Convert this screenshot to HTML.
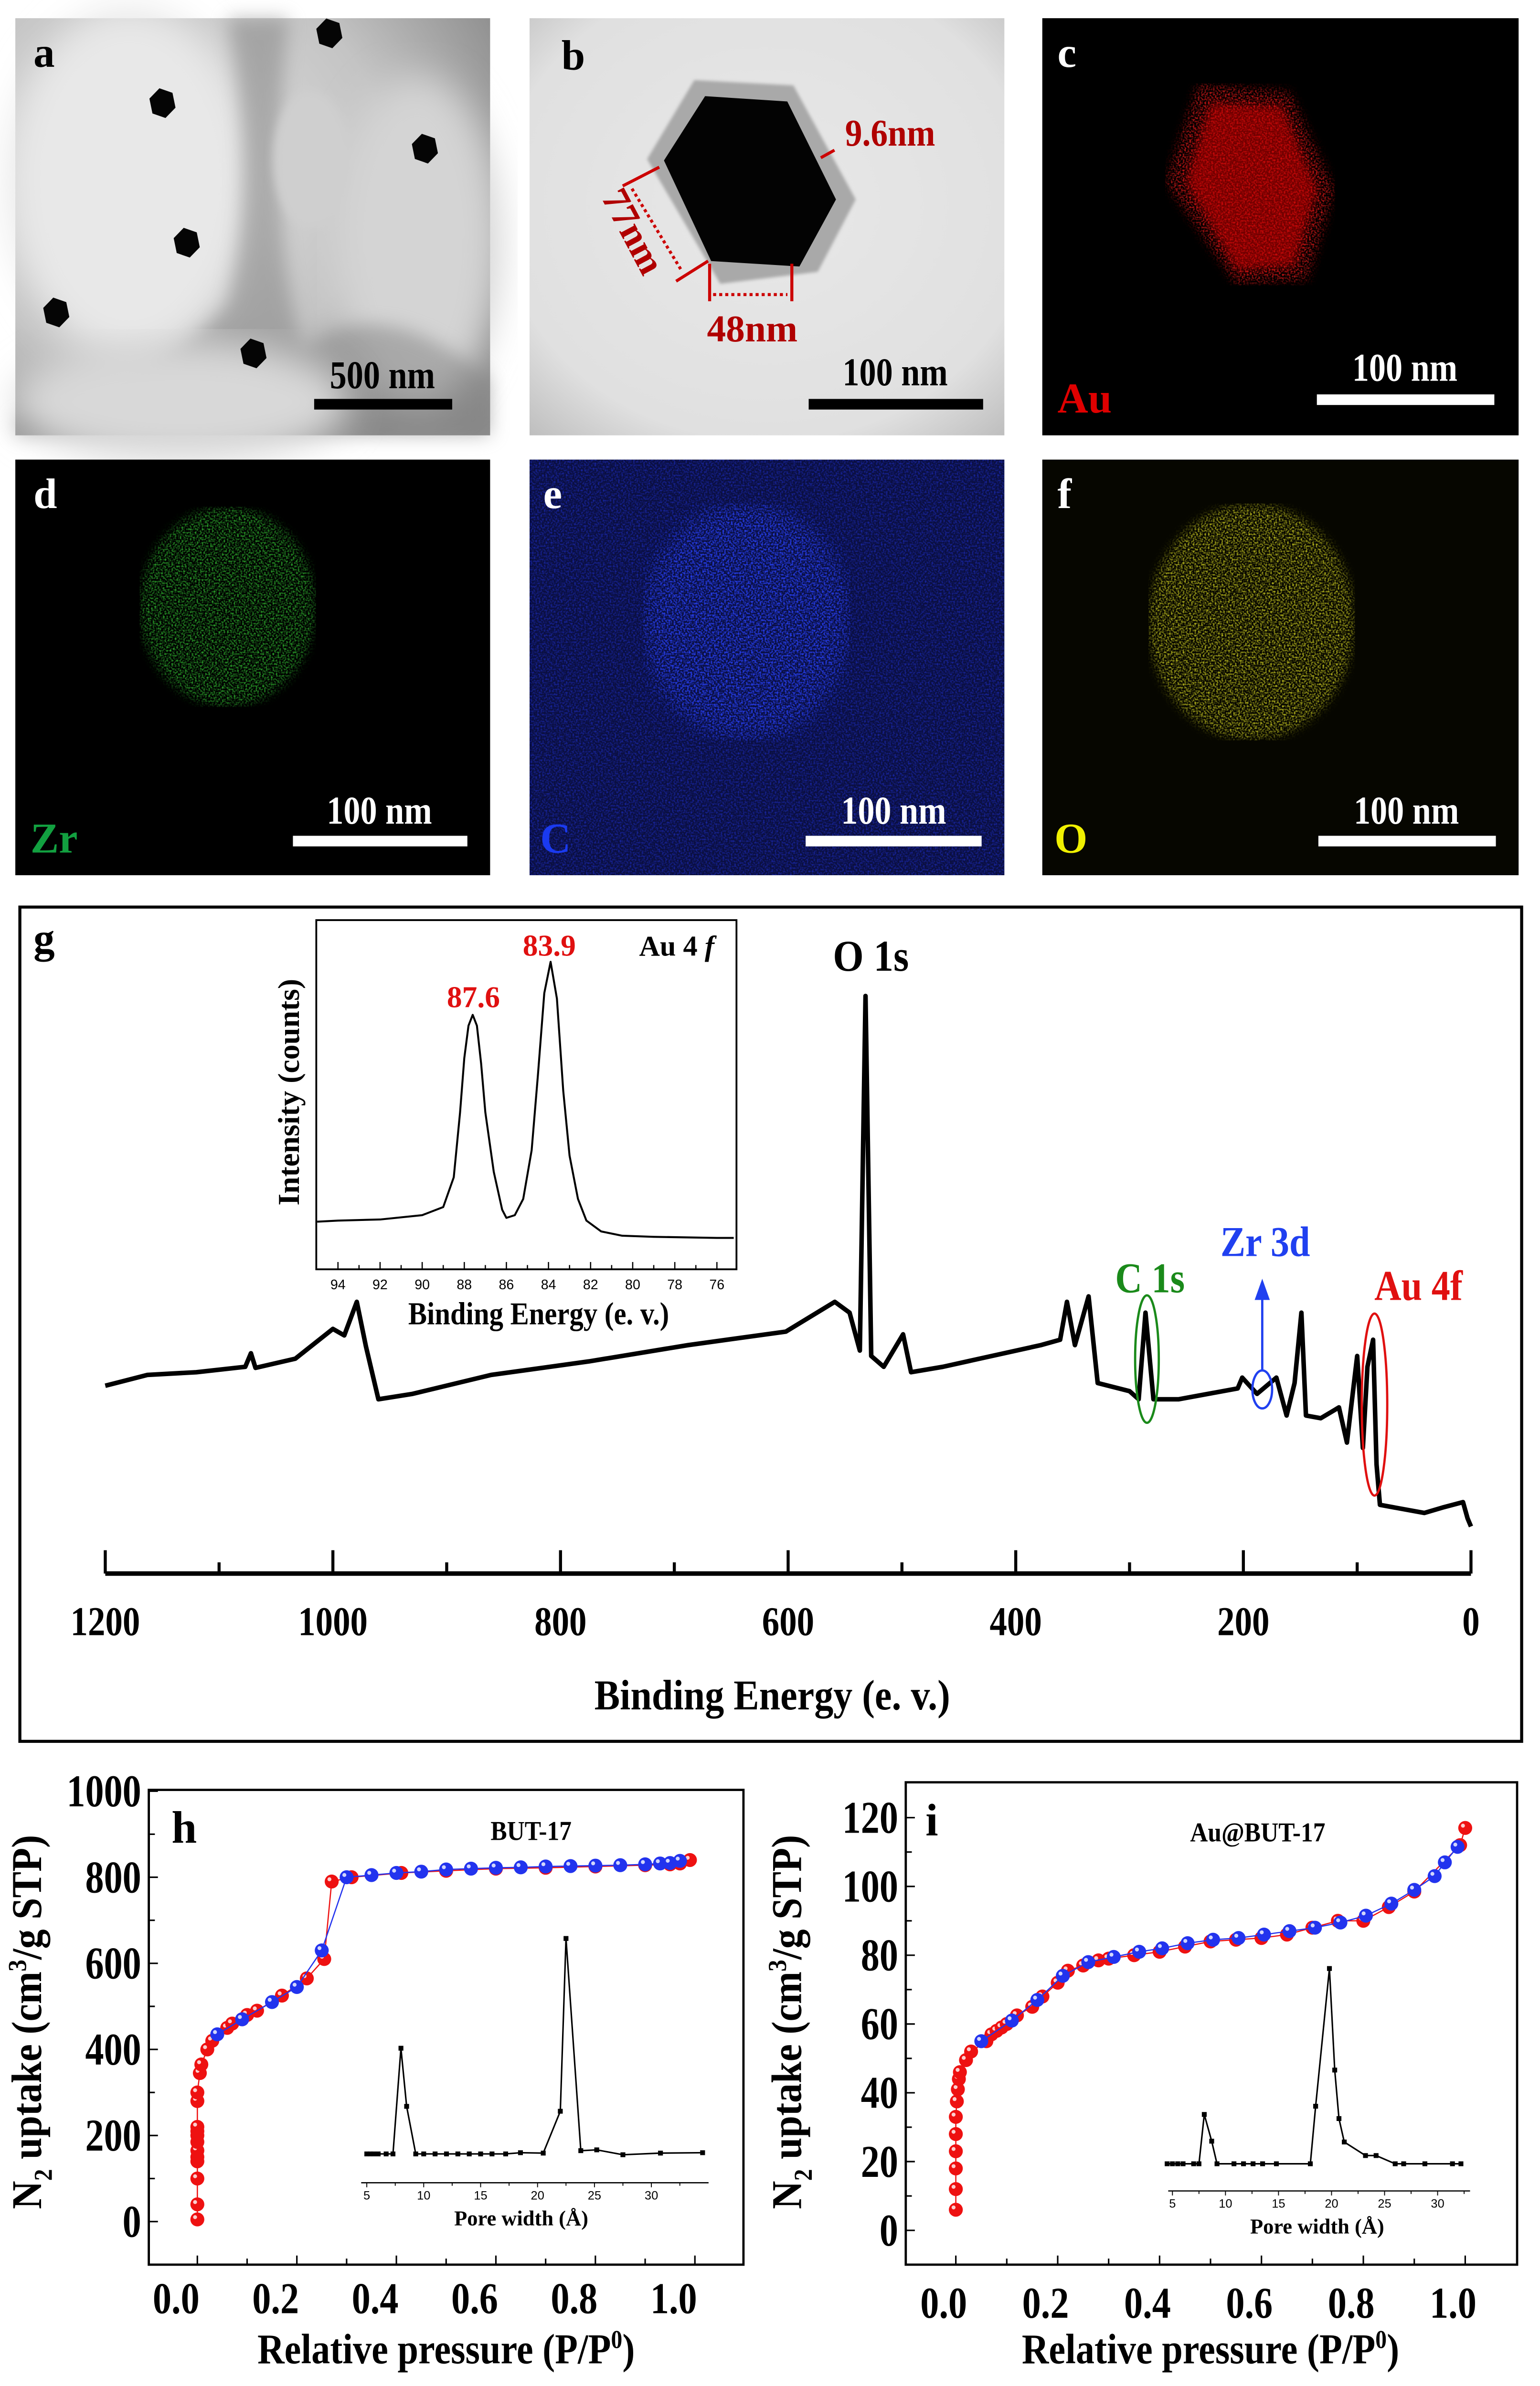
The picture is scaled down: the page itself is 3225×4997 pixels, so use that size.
<!DOCTYPE html>
<html><head><meta charset="utf-8"><style>
html,body{margin:0;padding:0;background:#fff;}
svg{display:block;font-family:"Liberation Serif",serif;}
</style></head><body>
<svg id="fig" width="3225" height="4997" viewBox="0 0 1015 1573" xmlns="http://www.w3.org/2000/svg">
<defs>
<filter id="blur6"><feGaussianBlur stdDeviation="6"/></filter>
<filter id="blur3"><feGaussianBlur stdDeviation="3"/></filter>
<filter id="blur1"><feGaussianBlur stdDeviation="1"/></filter>
<filter id="blur12"><feGaussianBlur stdDeviation="12"/></filter>
<filter id="speck" x="0" y="0" width="1" height="1"><feTurbulence type="fractalNoise" baseFrequency="0.9" numOctaves="1" seed="3" result="n"/><feColorMatrix in="n" type="matrix" values="0 0 0 0 0  0 0 0 0 0  0 0 0 0 0  0 0 0 -2.2 1.3" result="a"/><feComposite in="SourceGraphic" in2="a" operator="in"/></filter>
<radialGradient id="gA" cx="0.3" cy="0.35" r="0.8"><stop offset="0" stop-color="#e2e2e2"/><stop offset="0.6" stop-color="#c4c4c4"/><stop offset="1" stop-color="#8e8e8e"/></radialGradient>
<radialGradient id="gB" cx="0.5" cy="0.45" r="0.75"><stop offset="0" stop-color="#e8e8e8"/><stop offset="0.75" stop-color="#e0e0e0"/><stop offset="1" stop-color="#bdbdbd"/></radialGradient>
</defs>

<!-- panel a -->
<g>
<rect x="10" y="12" width="313" height="275" fill="url(#gA)"/>
<ellipse cx="85" cy="120" rx="80" ry="115" fill="#e8e8e8" filter="url(#blur12)"/>
<ellipse cx="275" cy="160" rx="55" ry="110" fill="#d4d4d4" filter="url(#blur12)"/>
<path d="M150 12 Q170 120 150 200 Q100 260 10 275 L10 287 L323 287 L323 250 Q250 190 200 230 Q175 150 190 12 Z" fill="#7f7f7f" opacity="0.5" filter="url(#blur6)"/>
<ellipse cx="205" cy="105" rx="25" ry="45" fill="#cfcfcf" filter="url(#blur3)"/>
<ellipse cx="120" cy="265" rx="110" ry="40" fill="#d8d8d8" filter="url(#blur12)"/>
<text x="22" y="44" font-size="28" font-weight="bold" fill="#000">a</text>
<rect x="207" y="263" width="91" height="7" fill="#000"/>
<text x="252" y="256" font-size="26" font-weight="bold" text-anchor="middle" fill="#000" transform="translate(252 0) scale(0.85 1) translate(-252 0)">500 nm</text>
</g>
<g id="hexA"></g>

<!-- panel b -->
<g>
<rect x="349" y="12" width="313" height="275" fill="url(#gB)"/>
<polygon points="457.6,52.8 522.9,56.3 564,131.5 539,179.2 474.7,187.1 426.5,104.9" fill="#a9a9a9" filter="url(#blur1)"/>
<polygon points="464.7,63.4 518.9,66.9 551,131.5 526.9,175.7 468.7,172.1 437.6,105.8" fill="#030303"/>
<text x="370" y="46" font-size="28" font-weight="bold">b</text>
<line x1="541" y1="104" x2="550" y2="99" stroke="#c00" stroke-width="2"/>
<text x="557" y="96" font-size="25" font-weight="bold" fill="#b00000" transform="translate(557 0) scale(0.9 1) translate(-557 0)">9.6nm</text>
<line x1="410.4" y1="122.6" x2="434.5" y2="110.2" stroke="#c00" stroke-width="2"/>
<line x1="445.6" y1="185.4" x2="466.7" y2="172.1" stroke="#c00" stroke-width="2"/>
<line x1="416.5" y1="124.4" x2="448.6" y2="177.4" stroke="#c00" stroke-width="2" stroke-dasharray="2,2"/>
<text x="396" y="130" font-size="25" font-weight="bold" fill="#b00000" transform="rotate(62 396 130)">77nm</text>
<line x1="467.7" y1="173.9" x2="467.7" y2="198.6" stroke="#c00" stroke-width="2"/>
<line x1="521.9" y1="173.9" x2="521.9" y2="198.6" stroke="#c00" stroke-width="2"/>
<line x1="470" y1="194.2" x2="519" y2="194.2" stroke="#c00" stroke-width="2" stroke-dasharray="2,2"/>
<text x="495.8" y="225" font-size="25" font-weight="bold" fill="#b00000" text-anchor="middle">48nm</text>
<rect x="533" y="263" width="115" height="7" fill="#000"/>
<text x="590" y="254" font-size="26" font-weight="bold" text-anchor="middle" transform="translate(590 0) scale(0.85 1) translate(-590 0)">100 nm</text>
</g>

<!-- panel c -->
<g>
<rect x="687" y="12" width="314" height="275" fill="#000"/>
<g filter="url(#speck)"><polygon points="790,55 850,60 880,125 862,185 815,188 768,120" fill="#ff1a1a" filter="url(#blur3)"/></g>
<polygon points="798,68 845,70 868,125 853,175 815,178 782,120" fill="#d00000" opacity="0.55" filter="url(#blur3)"/>
<text x="697" y="44" font-size="28" font-weight="bold" fill="#fff">c</text>
<text x="697" y="272" font-size="28" font-weight="bold" fill="#e00000">Au</text>
<rect x="868" y="260" width="117" height="7" fill="#fff"/>
<text x="926" y="251" font-size="26" font-weight="bold" fill="#fff" text-anchor="middle" transform="translate(926 0) scale(0.85 1) translate(-926 0)">100 nm</text>
</g>

<!-- panel d -->
<g>
<rect x="10" y="303" width="313" height="274" fill="#000"/>
<g filter="url(#speck)"><ellipse cx="150" cy="400" rx="58" ry="66" fill="#30c030" filter="url(#blur3)"/></g>
<text x="22" y="335" font-size="28" font-weight="bold" fill="#fff">d</text>
<text x="20" y="562" font-size="28" font-weight="bold" fill="#12a040">Zr</text>
<rect x="193" y="551" width="115" height="7" fill="#fff"/>
<text x="250" y="543" font-size="26" font-weight="bold" fill="#fff" text-anchor="middle" transform="translate(250 0) scale(0.85 1) translate(-250 0)">100 nm</text>
</g>

<!-- panel e -->
<g>
<rect x="349" y="303" width="313" height="274" fill="#0b0f40"/>
<g filter="url(#speck)"><rect x="349" y="303" width="313" height="274" fill="#1a28b0"/></g>
<g filter="url(#speck)"><ellipse cx="492" cy="410" rx="68" ry="78" fill="#2a45ff" filter="url(#blur6)"/></g>
<text x="358" y="335" font-size="28" font-weight="bold" fill="#fff">e</text>
<text x="356" y="562" font-size="28" font-weight="bold" fill="#1a3af0">C</text>
<rect x="531" y="551" width="116" height="7" fill="#fff"/>
<text x="589" y="543" font-size="26" font-weight="bold" fill="#fff" text-anchor="middle" transform="translate(589 0) scale(0.85 1) translate(-589 0)">100 nm</text>
</g>

<!-- panel f -->
<g>
<rect x="687" y="303" width="314" height="274" fill="#060600"/>
<g filter="url(#speck)"><ellipse cx="825" cy="410" rx="68" ry="78" fill="#d8d820" filter="url(#blur3)"/></g>
<text x="697" y="335" font-size="28" font-weight="bold" fill="#fff">f</text>
<text x="695" y="562" font-size="28" font-weight="bold" fill="#f0f000">O</text>
<rect x="869" y="551" width="117" height="7" fill="#fff"/>
<text x="927" y="543" font-size="26" font-weight="bold" fill="#fff" text-anchor="middle" transform="translate(927 0) scale(0.85 1) translate(-927 0)">100 nm</text>
</g>

<!-- panel g -->
<g id="panelG">
<rect x="13" y="598" width="990" height="550" fill="#fff" stroke="#000" stroke-width="2"/>
<text x="22" y="628" font-size="28" font-weight="bold">g</text>
</g>
<g id="panelH"></g>
<g id="panelI"></g>
</svg>

<script>
// ---------- XPS survey data ----------
const xpsEnergy = [1200,1163,1120,1077,1072,1068,1033,1000,990,979,971,960,930,861,775,688,602,559,546,537,532,527,516,499,492,464,378,361,355,348,336,328,300,292,286,279,257,205,201,188,171,162,155,149,145,132,116,109,100,95,91,86,83,80,41,25,7,3,0];
const xpsIntensity = [347,367,372,382,407,380,397,452,440,502,420,322,332,367,392,422,447,502,482,412,1067,402,382,442,372,382,422,432,502,422,512,352,337,322,482,322,322,342,362,332,362,292,352,482,292,287,307,242,402,232,382,432,202,127,112,122,132,102,87];
const xpsTicks = [1200,1000,800,600,400,200,0];
// ---------- XPS inset (Au 4f) ----------
const auEnergy = [95,94,92,90,89,88.5,88.2,88,87.8,87.6,87.4,87.2,87,86.6,86.2,86,85.6,85.2,84.8,84.5,84.2,83.9,83.6,83.3,83,82.6,82.2,81.5,80.5,79,76,75.2];
const auIntensity = [38,40,42,50,65,120,240,340,400,420,400,330,240,130,60,45,50,80,170,310,460,518,450,280,160,80,40,20,12,10,8,8];
const auTicks = [94,92,90,88,86,84,82,80,78,76];
// ---------- BUT-17 isotherm ----------
const hAdsX = [0,0,0,0,0,0,0,0,0,0,0,0,0.005,0.008,0.02,0.03,0.06,0.07,0.09,0.1,0.12,0.17,0.22,0.255,0.27,0.31,0.41,0.5,0.6,0.7,0.8,0.9,0.95,0.97,0.99];
const hAdsY = [5,40,100,140,150,165,185,200,210,220,280,300,345,365,400,420,450,460,470,480,490,525,565,610,790,800,810,815,820,822,825,828,830,832,840];
const hDesX = [0.04,0.09,0.15,0.2,0.25,0.3,0.35,0.4,0.45,0.5,0.55,0.6,0.65,0.7,0.75,0.8,0.85,0.9,0.93,0.95,0.97];
const hDesY = [435,470,510,545,630,800,805,810,813,818,820,822,823,825,826,827,828,830,832,833,838];
const hYTicks = [0,200,400,600,800,1000];
const xTicks = [0,0.2,0.4,0.6,0.8,1.0];
const hPoreX = [5,5.3,5.6,6,6.7,7.3,8,8.5,9.3,10,11,12,13,14,15,16,17.2,18.5,20.5,22,22.5,23.8,25.2,27.5,30.8,34.5];
const hPoreY = [0,0,0,0,0,0,260,117,0,0,0,0,0,0,0,0,0,3,2,105,530,8,10,-2,2,3];
const hPoreTicks = [5,10,15,20,25,30];
// ---------- Au@BUT-17 isotherm ----------
const iAdsX = [0,0,0,0,0,0,0.002,0.004,0.006,0.008,0.02,0.03,0.06,0.07,0.08,0.09,0.1,0.12,0.15,0.17,0.2,0.22,0.25,0.28,0.3,0.35,0.4,0.45,0.5,0.55,0.6,0.65,0.7,0.75,0.8,0.85,0.9,0.99,1.0];
const iAdsY = [6,12,18,23,28,33,37.5,41,44,46,49.5,52,55,57,58,59,60,62.5,65,68,72,75.5,77,78.5,79,80,81,82.5,84,84.5,85,86,88,90,90,94,98.5,112,117];
const iDesX = [0.05,0.11,0.16,0.21,0.26,0.31,0.36,0.405,0.455,0.505,0.555,0.605,0.655,0.705,0.755,0.805,0.855,0.9,0.94,0.96,0.985];
const iDesY = [55,61,67,74,78,79.5,81,82,83.5,84.5,85,86,87,88,89.5,91.5,95,99,103,107,111.5];
const iYTicks = [0,20,40,60,80,100,120];
const iPoreX = [4.5,5,5.5,6,7,7.5,8,8.7,9.2,10.8,11.7,12.6,13.5,14.8,18,18.5,19.8,20.3,20.7,21.2,23.2,24.2,26,26.8,28.8,31.4,32.2];
const iPoreY = [0,0,0,0,0,0,120,55,0,0,0,0,0,0,0,140,475,228,110,53,20,20,0,0,0,0,0];
const iPoreTicks = [5,10,15,20,25,30];

const NS = "http://www.w3.org/2000/svg";
function mk(parent, tag, attrs, text){
  const e = document.createElementNS(NS, tag);
  for (const k in attrs) e.setAttribute(k, attrs[k]);
  if (text !== undefined) e.textContent = text;
  parent.appendChild(e);
  return e;
}
function lin(d0,d1,r0,r1){ return v => r0 + (v-d0)*(r1-r0)/(d1-d0); }
function cond(x, s){ return `translate(${x} 0) scale(${s} 1) translate(${-x} 0)`; }

// nanoparticles in panel a
(function(){
  const g = document.getElementById('hexA');
  const centers = [[107,68],[217,22],[280,98],[123,160],[37,206],[167,233]];
  centers.forEach(c=>{
    let pts=[];
    for(let k=0;k<6;k++){const a=Math.PI/3*k+0.3;pts.push((c[0]+9*Math.cos(a)).toFixed(1)+','+(c[1]+10*Math.sin(a)).toFixed(1));}
    const p = mk(g,'polygon',{points:pts.join(' '),fill:'#050505'});
    
    
  });
})();

// ---------- panel g ----------
(function(){
  const g = document.getElementById('panelG');
  const xE = lin(1200,0,69.3,969.6);
  const yI = v => 597 + (1252 - v - 18)*0.3569;
  let d = xpsEnergy.map((e,i)=>(i?'L':'M')+xE(e).toFixed(2)+' '+yI(xpsIntensity[i]).toFixed(2)).join(' ');
  const sp = mk(g,'path',{d:d,fill:'none',stroke:'#000','stroke-width':3,'stroke-linejoin':'round'});
  
  
  const ax = mk(g,'line',{x1:69.3,x2:969.6,y1:1037.4,y2:1037.4,stroke:'#000','stroke-width':3});
  
  
  for(let e=0;e<=1200;e+=100){
    const major = e%200===0;
    mk(g,'line',{x1:xE(e),x2:xE(e),y1:1037.4,y2:major?1022:1030,stroke:'#000','stroke-width':2});
  }
  xpsTicks.forEach(t=>{
    const tl = mk(g,'text',{x:xE(t),y:1078,'font-size':27,'font-weight':'bold','text-anchor':'middle',transform:cond(xE(t),0.85)},String(t));
    
    
  });
  const xt = mk(g,'text',{x:509,y:1127,'font-size':28,'font-weight':'bold','text-anchor':'middle',transform:cond(509,0.9)},'Binding Energy (e. v.)');
  
  
  const o1 = mk(g,'text',{x:574,y:640,'font-size':29,'font-weight':'bold','text-anchor':'middle',transform:cond(574,0.9)},'O 1s');
  
  
  const c1 = mk(g,'text',{x:758,y:852,'font-size':28,'font-weight':'bold','text-anchor':'middle',fill:'#1a8a1a',transform:cond(758,0.88)},'C 1s');
  
  
  const zr = mk(g,'text',{x:834,y:828,'font-size':28,'font-weight':'bold','text-anchor':'middle',fill:'#2040f0',transform:cond(834,0.88)},'Zr 3d');
  
  
  const au = mk(g,'text',{x:935,y:857,'font-size':28,'font-weight':'bold','text-anchor':'middle',fill:'#e01010',transform:cond(935,0.88)},'Au 4f');
  
  
  mk(g,'ellipse',{cx:756,cy:896,rx:7.8,ry:42,fill:'none',stroke:'#1a8a1a','stroke-width':1.5});
  mk(g,'ellipse',{cx:832,cy:916,rx:6.5,ry:12.5,fill:'none',stroke:'#2040f0','stroke-width':1.5});
  mk(g,'ellipse',{cx:906,cy:926,rx:8.4,ry:60,fill:'none',stroke:'#e01010','stroke-width':1.5});
  mk(g,'line',{x1:832,y1:903,x2:832,y2:855,stroke:'#2040f0','stroke-width':1.5});
  mk(g,'polygon',{points:'827,857 837,857 832,843',fill:'#2040f0'});

  // inset
  const ib = mk(g,'rect',{x:208.4,y:606.6,width:277,height:230.2,fill:'#fff',stroke:'#000','stroke-width':1.2});
  
  
  const xa = lin(94,76,222.7,472.5);
  const ya = v => 606.6 + (640 - v - 45)*0.3569;
  let d2 = auEnergy.map((e,i)=>(i?'L':'M')+Math.max(209,Math.min(485,xa(e))).toFixed(2)+' '+ya(auIntensity[i]).toFixed(2)).join(' ');
  const ac = mk(g,'path',{d:d2,fill:'none',stroke:'#000','stroke-width':1.3,'stroke-linejoin':'round'});
  
  
  for(let e=95;e>=75;e-=1){ if(xa(e)<209||xa(e)>485) continue; mk(g,'line',{x1:xa(e),x2:xa(e),y1:836.8,y2:e%2===0?832:834,stroke:'#000','stroke-width':0.8}); }
  auTicks.forEach(t=>{
    const tl = mk(g,'text',{x:xa(t),y:850,'font-size':9,'text-anchor':'middle','font-family':'Liberation Sans, sans-serif'},String(t));
    
    
  });
  const it = mk(g,'text',{x:355,y:873,'font-size':21,'font-weight':'bold','text-anchor':'middle',transform:cond(355,0.88)},'Binding Energy (e. v.)');
  
  
  const iy = mk(g,'text',{x:197,y:720,'font-size':20,'font-weight':'bold','text-anchor':'middle',transform:'rotate(-90 197 720)'},'Intensity (counts)');
  
  
  const p1 = mk(g,'text',{x:312,y:664,'font-size':20,'font-weight':'bold','text-anchor':'middle',fill:'#e01010'},'87.6');
  
  
  const p2 = mk(g,'text',{x:362,y:630,'font-size':20,'font-weight':'bold','text-anchor':'middle',fill:'#e01010'},'83.9');
  
  
  const tt = mk(g,'text',{x:446,y:630,'font-size':19,'font-weight':'bold','text-anchor':'middle'},'Au 4');
  
  
  mk(tt,'tspan',{'font-style':'italic'},' f');
})();

// ---------- isotherm panel builder ----------
function isoPanel(id, cfg){
  const g = document.getElementById(id);
  const box = mk(g,'rect',{x:cfg.bx0,y:cfg.by0,width:cfg.bx1-cfg.bx0,height:cfg.by1-cfg.by0,fill:'#fff',stroke:'#000','stroke-width':1.5});
  
  
  const X = lin(0,1,cfg.x0px,cfg.x1px);
  const Y = lin(0,cfg.ymaxv,cfg.y0px,cfg.y1px);
  for(let v=0; v<=1.0001; v+=0.1){
    mk(g,'line',{x1:X(v),x2:X(v),y1:cfg.by1,y2:cfg.by1-(Math.round(v*10)%2===0?6:4),stroke:'#000','stroke-width':1});
  }
  xTicks.forEach(t=>{
    const xx = X(t)-cfg.xlabShift;
    const tl = mk(g,'text',{x:xx,y:cfg.xlabY,'font-size':29,'font-weight':'bold','text-anchor':'middle',transform:cond(xx,0.85)},t.toFixed(1));
    
    
  });
  for(let v=0; v<=cfg.ymaxTick; v+=cfg.minor){
    mk(g,'line',{x1:cfg.bx0,x2:cfg.bx0+((v/cfg.minor)%2===0?6:4),y1:Y(v),y2:Y(v),stroke:'#000','stroke-width':1});
  }
  cfg.yTicks.forEach(t=>{
    const tl = mk(g,'text',{x:cfg.ylabX,y:Y(t)+10,'font-size':30,'font-weight':'bold','text-anchor':'end',transform:cond(cfg.ylabX,0.82)},String(t));
    
    
  });
  const xc = (cfg.x0px+cfg.x1px)/2;
  const xt = mk(g,'text',{x:xc,y:cfg.xtitleY,'font-size':28,'font-weight':'bold','text-anchor':'middle',transform:cond(xc,0.88)},'Relative pressure (P/P');
  
  
  mk(xt,'tspan',{dy:-10,'font-size':17},'0');
  mk(xt,'tspan',{dy:10},')');
  const yt = mk(g,'text',{x:cfg.ytitleX,y:cfg.ytitleY,'font-size':28,'font-weight':'bold','text-anchor':'middle',transform:`rotate(-90 ${cfg.ytitleX} ${cfg.ytitleY}) ${cond(cfg.ytitleX,0.92)}`},'N');
  
  
  mk(yt,'tspan',{dy:7,'font-size':17},'2');
  mk(yt,'tspan',{dy:-7},' uptake (cm');
  mk(yt,'tspan',{dy:-10,'font-size':17},'3');
  mk(yt,'tspan',{dy:10},'/g STP)');
  const pl = mk(g,'text',{x:cfg.plX,y:cfg.plY,'font-size':30,'font-weight':'bold'},cfg.panel);
  
  
  const st = mk(g,'text',{x:cfg.stX,y:cfg.stY,'font-size':18,'font-weight':'bold','text-anchor':'middle',transform:cond(cfg.stX,0.9)},cfg.sample);
  
  
  function series(xs, ys, col, name){
    const d = xs.map((x,i)=>(i?'L':'M')+X(x).toFixed(2)+' '+Y(ys[i]).toFixed(2)).join(' ');
    const ln = mk(g,'path',{d:d,fill:'none',stroke:col,'stroke-width':0.8});
    
    
    xs.forEach((x,i)=>{
      const c = mk(g,'circle',{cx:X(x),cy:Y(ys[i]),r:4.6,fill:col});
      
      
      mk(g,'circle',{cx:X(x)-1.5,cy:Y(ys[i])-1.5,r:1.3,fill:'#fff',opacity:0.8});
    });
  }
  series(cfg.adsX, cfg.adsY, '#ee1111', 'adsorption');
  series(cfg.desX, cfg.desY, '#2233ee', 'desorption');
  const PX = lin(5,30,cfg.p5,cfg.p30);
  const PY = v => cfg.pBase - v*cfg.pScale;
  mk(g,'line',{x1:cfg.pAx0,x2:cfg.pAx1,y1:cfg.pAxY,y2:cfg.pAxY,stroke:'#000','stroke-width':0.8});
  for(let v=5; v<=cfg.pMaxTick; v+=2.5){ mk(g,'line',{x1:PX(v),x2:PX(v),y1:cfg.pAxY,y2:cfg.pAxY+(v%5===0?3:2),stroke:'#000','stroke-width':0.6}); }
  cfg.pTicks.forEach(t=>{
    const tl = mk(g,'text',{x:PX(t),y:cfg.pAxY+11,'font-size':8,'text-anchor':'middle','font-family':'Liberation Sans, sans-serif'},String(t));
    
    
  });
  const pt = mk(g,'text',{x:(cfg.p5+cfg.p30)/2+8,y:cfg.pAxY+28,'font-size':14,'font-weight':'bold','text-anchor':'middle'},'Pore width (Å)');
  
  
  const d = cfg.poreX.map((x,i)=>(i?'L':'M')+PX(x).toFixed(2)+' '+PY(cfg.poreY[i]).toFixed(2)).join(' ');
  const pl2 = mk(g,'path',{d:d,fill:'none',stroke:'#000','stroke-width':1});
  
  
  cfg.poreX.forEach((x,i)=>{
    const r = mk(g,'rect',{x:PX(x)-1.6,y:PY(cfg.poreY[i])-1.6,width:3.2,height:3.2,fill:'#000'});
    
    
  });
}

isoPanel('panelH',{
  bx0:98,bx1:490,by0:1180,by1:1493,
  x0px:130,x1px:458,y0px:1464.6,y1px:1237.6,ymaxv:800,ymaxTick:1000,minor:100,
  yTicks:hYTicks, ylabX:93, xlabY:1525, xlabShift:14, xtitleY:1558, ytitleX:27, ytitleY:1333,
  plX:113,plY:1215,panel:'h',stX:350,stY:1213,sample:'BUT-17',
  adsX:hAdsX,adsY:hAdsY,desX:hDesX,desY:hDesY,
  p5:241.7,p30:429.3,pBase:1420,pScale:0.268,pAx0:238,pAx1:467,pAxY:1439,pMaxTick:32.5,pTicks:hPoreTicks,
  poreX:hPoreX,poreY:hPoreY
});
isoPanel('panelI',{
  bx0:597,bx1:1000,by0:1175,by1:1493,
  x0px:630,x1px:965.8,y0px:1470.4,y1px:1198.3,ymaxv:120,ymaxTick:125,minor:10,
  yTicks:iYTicks, ylabX:592, xlabY:1528, xlabShift:8, xtitleY:1558, ytitleX:528, ytitleY:1333,
  plX:610,plY:1210,panel:'i',stX:829,stY:1214,sample:'Au@BUT-17',
  adsX:iAdsX,adsY:iAdsY,desX:iDesX,desY:iDesY,
  p5:772.8,p30:947.6,pBase:1426.5,pScale:0.271,pAx0:770,pAx1:969,pAxY:1444.4,pMaxTick:32.5,pTicks:iPoreTicks,
  poreX:iPoreX,poreY:iPoreY
});
</script>
</body></html>
